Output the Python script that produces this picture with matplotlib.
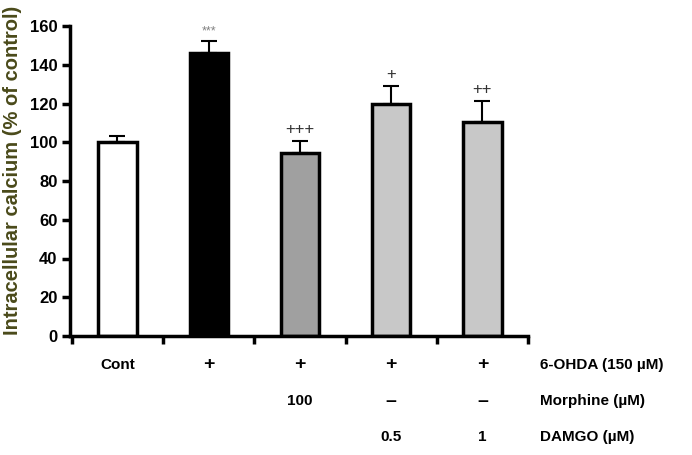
import numpy as np
import matplotlib.pyplot as plt
from matplotlib.transforms import blended_transform_factory

plt.rcParams['font.family'] = ['Liberation Sans', 'DejaVu Sans']

# data
groups = ['Cont', '6-OHDA', '6-OHDA+Morphine', '6-OHDA+DAMGO 0.5', '6-OHDA+DAMGO 1']
values = [100, 146, 94.5, 119.5, 110.5]
errors = [3, 6.5, 6, 9.5, 11]
colors = ['white', 'black', '#a0a0a0', '#c8c8c8', '#c8c8c8']
marks = ['', '***', '+++', '+', '++']

row_ohda = ['Cont', '+', '+', '+', '+']
row_morphine = ['', '', '100', '\u2013', '\u2013']
row_damgo = ['', '', '', '0.5', '1']
row_names = ['6-OHDA (150 \u00b5M)', 'Morphine (\u00b5M)', 'DAMGO (\u00b5M)']

fig = plt.figure(figsize=(6.92, 4.55), dpi=100)
ax = fig.add_axes([70 / 692, 119 / 455, 458 / 692, 310 / 455])

x = np.arange(len(values))
ax.bar(x, values, width=0.42, color=colors, edgecolor='black', linewidth=2.5, zorder=2)
ax.errorbar(x, values, yerr=[np.zeros(len(errors)), errors], fmt='none',
            ecolor='black', elinewidth=1.5, capsize=6, capthick=1.5, zorder=1)

# significance marks
for xi, v, e, m in zip(x, values, errors, marks):
    if m == '***':
        ax.text(xi, v + e + 1.5, m, ha='center', va='bottom', fontsize=9, color='#808080')
    elif m:
        ax.text(xi, v + e + 2, m, ha='center', va='bottom', fontsize=12, color='#333333')

ax.set_xlim(-0.52, 4.5)
ax.set_ylim(0, 160)
ax.set_yticks(np.arange(0, 161, 20))
ax.set_xticks(np.arange(-0.5, 5, 1))
ax.set_xticklabels([])
ax.tick_params(axis='both', width=2.5, length=6, direction='out')
ax.tick_params(axis='y', labelsize=12, pad=3)
for lab in ax.get_yticklabels():
    lab.set_fontweight('bold')
for s in ['top', 'right']:
    ax.spines[s].set_visible(False)
for s in ['left', 'bottom']:
    ax.spines[s].set_linewidth(2.5)

# treatment table under the axis
tr = blended_transform_factory(ax.transData, fig.transFigure)
for row, ypix in zip([row_ohda, row_morphine, row_damgo], [365, 401, 437]):
    for xi, t in zip(x, row):
        if t:
            size = 14 if t in ('+', '\u2013') else 11
            ax.text(xi, 1 - ypix / 455, t, transform=tr, ha='center', va='center',
                    fontsize=size, fontweight='bold')

for name, ypix in zip(row_names, [365, 401, 437]):
    fig.text(540 / 692, 1 - ypix / 455, name, ha='left', va='center',
             fontsize=11, fontweight='bold')

fig.text(13 / 692, 1 - 170 / 455, 'Intracellular calcium (% of control)', rotation=90,
         ha='center', va='center', fontsize=14.5, fontweight='bold', color='#4a4a1a')

fig.savefig('out.png', dpi=100)
